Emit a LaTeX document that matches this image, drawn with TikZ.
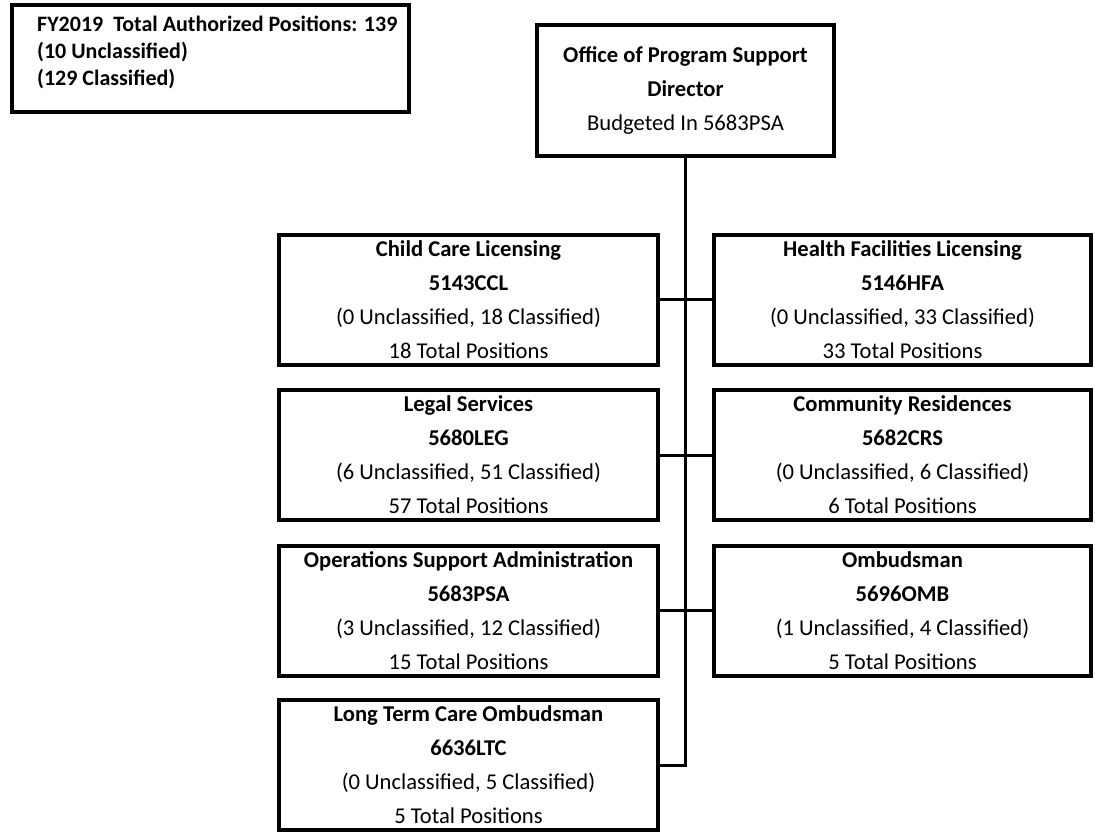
\documentclass[tikz,border=0pt]{standalone}
\usepackage{fontspec}
\setmainfont{Carlito}
\begin{document}
\begin{tikzpicture}[x=1pt,y=-1pt,
  unitbox/.style={draw=black, line width=4pt, fill=white, inner sep=0pt,
    align=center, font=\fontsize{22.6}{34}\selectfont},
  leftbox/.style={unitbox, minimum width=379pt, minimum height=130pt},
  rightbox/.style={unitbox, minimum width=377pt, minimum height=130pt},
  link/.style={draw=black, line width=3pt}]
\useasboundingbox[fill=white] (0,0) rectangle (1095,833);

% summary of authorized positions
\node[draw=black, line width=4pt, minimum width=397pt, minimum height=107pt, inner sep=0pt]
  (summary) at (210.5,58.5) {};
\node[anchor=north west, inner sep=0pt, align=left,
  font=\fontsize{22}{27}\selectfont\bfseries] (summarytext) at (37,16)
  {FY2019\ \ Total Authorized Positions: 139\\(10 Unclassified)\\(129 Classified)};

% director
\node[unitbox, minimum width=297pt, minimum height=131pt] (dir) at (685.5,90.5)
  {\textbf{Office of Program Support}\\\textbf{Director}\\Budgeted In 5683PSA};

% left column
\node[leftbox] (ccl) at (468.5,299.5)
  {\textbf{Child Care Licensing}\\\textbf{5143CCL}\\(0 Unclassified, 18 Classified)\\18 Total Positions};
\node[leftbox] (leg) at (468.5,455)
  {\textbf{Legal Services}\\\textbf{5680LEG}\\(6 Unclassified, 51 Classified)\\57 Total Positions};
\node[leftbox] (psa) at (468.5,610.5)
  {\textbf{Operations Support Administration}\\\textbf{5683PSA}\\(3 Unclassified, 12 Classified)\\15 Total Positions};
\node[leftbox] (ltc) at (468.5,765)
  {\textbf{Long Term Care Ombudsman}\\\textbf{6636LTC}\\(0 Unclassified, 5 Classified)\\5 Total Positions};

% right column
\node[rightbox] (hfa) at (902.5,299.5)
  {\textbf{Health Facilities Licensing}\\\textbf{5146HFA}\\(0 Unclassified, 33 Classified)\\33 Total Positions};
\node[rightbox] (crs) at (902.5,455)
  {\textbf{Community Residences}\\\textbf{5682CRS}\\(0 Unclassified, 6 Classified)\\6 Total Positions};
\node[rightbox] (omb) at (902.5,610.5)
  {\textbf{Ombudsman}\\\textbf{5696OMB}\\(1 Unclassified, 4 Classified)\\5 Total Positions};

% connectors
\coordinate (trunkend) at (dir.south |- ltc.east);
\draw[link] (dir.south) -- ([yshift=-1.5pt]trunkend);
\draw[link] (ccl.east) -- (hfa.west);
\draw[link] (leg.east) -- (crs.west);
\draw[link] (psa.east) -- (omb.west);
\draw[link] (ltc.east) -- ([xshift=1.5pt]trunkend);
\end{tikzpicture}
\end{document}
